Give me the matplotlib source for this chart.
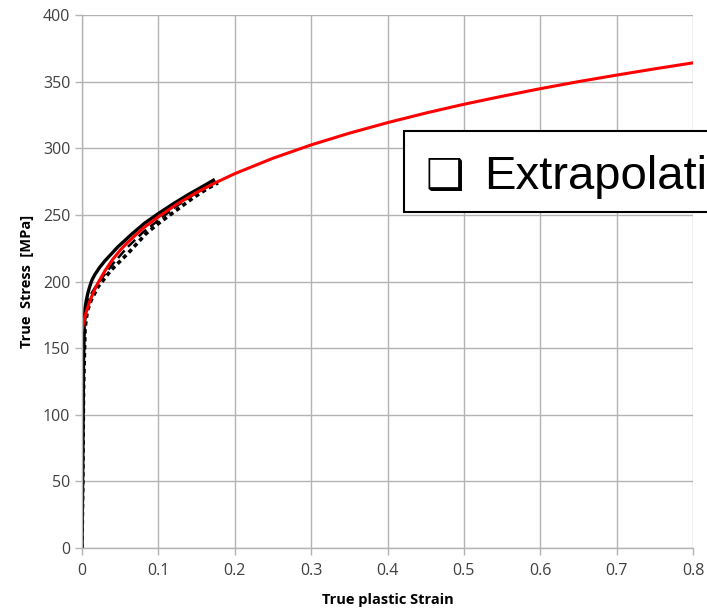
import matplotlib
matplotlib.use("Agg")
import matplotlib.pyplot as plt
from matplotlib.patches import Rectangle

# Experimental curves (black)
strain_a = [0, 0.001, 0.002, 0.003, 0.004, 0.0057, 0.008, 0.01, 0.013, 0.0166, 0.023, 0.03, 0.047, 0.065, 0.082, 0.1, 0.12, 0.14, 0.16, 0.172]
stress_a = [0, 60, 140, 170, 180, 186, 192, 196, 201, 205, 210.5, 215.5, 226, 235.5, 243.8, 251, 258.5, 265.5, 272, 276]

strain_b = [0, 0.001, 0.002, 0.004, 0.007, 0.012, 0.021, 0.038, 0.06, 0.084, 0.1, 0.12, 0.146, 0.165, 0.178]
stress_b = [0, 50, 120, 165, 178, 186, 196, 208.5, 221, 236, 243.5, 252, 263, 270, 274]

strain_c = [0, 0.001, 0.003, 0.006, 0.01, 0.02, 0.04, 0.06, 0.08, 0.1, 0.12, 0.14, 0.16, 0.175]
stress_c = [0, 100, 165, 180, 189, 198, 213, 226, 237, 246, 255, 263, 270, 275]

# Extrapolation (red)
strain_r = [0.0, 0.0025, 0.005, 0.01, 0.015, 0.02, 0.03, 0.04, 0.05, 0.06, 0.08, 0.1, 0.125, 0.15, 0.175,
            0.2, 0.25, 0.3, 0.35, 0.4, 0.45, 0.5, 0.55, 0.6, 0.65, 0.7, 0.75, 0.8]
stress_r = [163.5, 170, 176, 185, 192, 198, 208, 216.5, 223.5, 229.5, 240, 248.5, 258.3, 266.8, 274.2,
            280.9, 292.5, 302.5, 311.3, 319.2, 326.4, 333.0, 339.0, 344.7, 350.0, 354.9, 359.6, 364.1]

xticks = [0, 0.1, 0.2, 0.3, 0.4, 0.5, 0.6, 0.7, 0.8]
xticklabels = ["0", "0.1", "0.2", "0.3", "0.4", "0.5", "0.6", "0.7", "0.8"]
yticks = [0, 50, 100, 150, 200, 250, 300, 350, 400]

plt.rcParams['font.family'] = ['Open Sans', 'DejaVu Sans']

fig = plt.figure(figsize=(7.07, 6.12), dpi=100)
ax = fig.add_axes([82/707, 64/612, 611/707, 533/612])

ax.plot(strain_c, stress_c, color='black', lw=1.8, ls=(0, (4, 2)))
ax.plot(strain_b, stress_b, color='black', lw=2.6, ls=(0, (1.2, 1.0)))
ax.plot(strain_a, stress_a, color='black', lw=2.4, ls='-')
ax.plot(strain_r, stress_r, color='#ff0000', lw=2.2)

ax.set_xlim(0, 0.8)
ax.set_ylim(0, 400)
ax.set_xticks(xticks)
ax.set_xticklabels(xticklabels)
ax.set_yticks(yticks)
ax.grid(True, color='#b3b3b3', lw=1)
ax.set_axisbelow(True)
for s in ['top', 'right']:
    ax.spines[s].set_visible(False)
for s in ['left', 'bottom']:
    ax.spines[s].set_color('#b3b3b3')
    ax.spines[s].set_linewidth(1)
ax.tick_params(axis='both', colors='#b3b3b3', length=5, width=1, labelcolor='#404040', labelsize=11.5)
ax.tick_params(axis='x', pad=6)

ax.set_xlabel('True plastic Strain', fontsize=10.5, fontweight='bold', labelpad=10)
ax.set_ylabel('True  Stress  [MPa]', fontsize=10.5, fontweight='bold', labelpad=6)

# Title box, clipped at the right edge of the figure as in the reference
rect = Rectangle((404/707, 1 - 212/612), (730-404)/707, (212-131)/612,
                 transform=fig.transFigure, facecolor='white', edgecolor='black', lw=1.5, zorder=5)
fig.patches.append(rect)
fig.text(425/707, 1 - 189/612, '\u2751', fontsize=31,
         family=['DejaVu Sans'], va='baseline', ha='left', zorder=6)
fig.text(484/707, 1 - 189/612, 'Extrapolati', fontsize=34,
         family=['Liberation Sans', 'DejaVu Sans'], va='baseline', ha='left', zorder=6)

fig.savefig('out.png', dpi=100)
